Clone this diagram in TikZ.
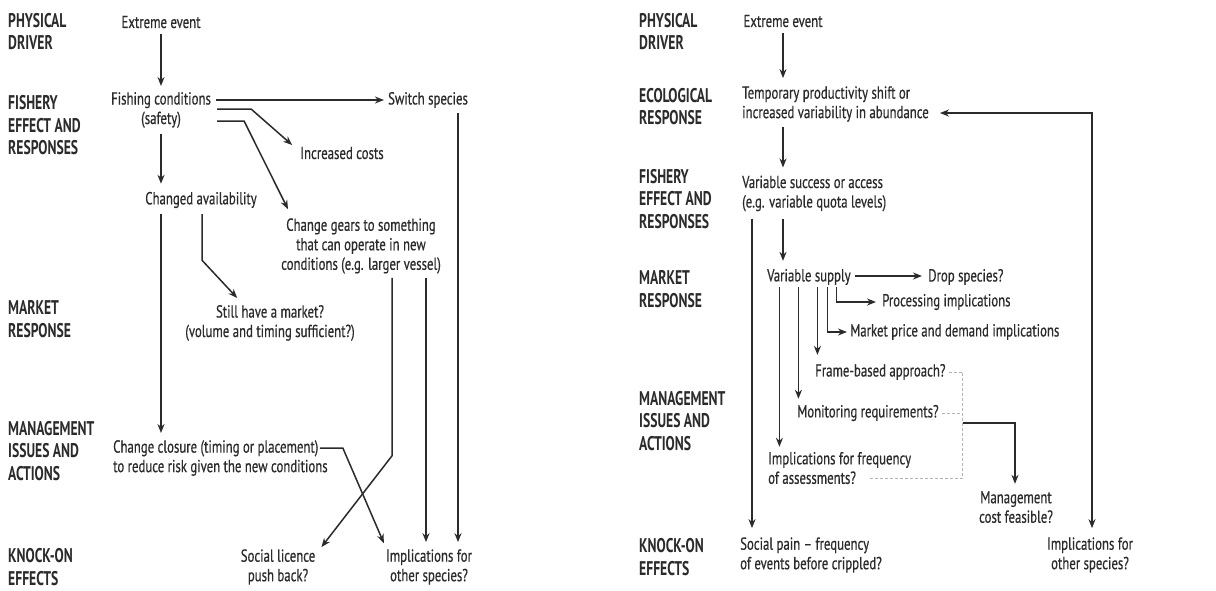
\documentclass[tikz,border=0pt]{standalone}
\usepackage{fontspec}
\setmainfont[FakeStretch=0.735,FakeBold=0.5]{PT Sans}
\newfontfamily\headfont[FakeStretch=0.69]{PT Sans}
\usetikzlibrary{arrows.meta,calc}
\definecolor{ink}{HTML}{2B2B2B}
\begin{document}
\begin{tikzpicture}[x=1pt,y=-1pt,
  every node/.style={inner sep=0pt, text=ink},
  body/.style={font=\fontsize{17.4}{19.5}\selectfont, align=center},
  bodyl/.style={font=\fontsize{17.4}{19.5}\selectfont, align=left, anchor=west},
  head/.style={font=\headfont\bfseries\fontsize{19.8}{22.5}\selectfont, align=left, anchor=west},
  link/.style={draw=ink, line width=1.5pt},
  arr/.style={link, -{Stealth[length=9pt,width=7pt]}},
  arrs/.style={link, {Stealth[length=9pt,width=7pt]}-{Stealth[length=9pt,width=7pt]}},
  dsh/.style={draw=black!30, line width=0.9pt, dash pattern=on 3pt off 2pt}]
\useasboundingbox[fill=white] (0,0) rectangle (1216,590);

% ---------- left panel: row headings ----------
\node[head] (lp)  at (8,31.5)  {PHYSICAL\\DRIVER};
\node[head] (lf)  at (8,125.5) {FISHERY\\EFFECT AND\\RESPONSES};
\node[head] (lm)  at (8,319)   {MARKET\\RESPONSE};
\node[head] (lmg) at (8,451)   {MANAGEMENT\\ISSUES AND\\ACTIONS};
\node[head] (lk)  at (8,567)   {KNOCK-ON\\EFFECTS};

% ---------- left panel: items ----------
\node[body] (ee1) at (161,22)  {Extreme event};
\node[body] (fc)  at (161,110) {Fishing conditions\\(safety)};
\node[body] (ss)  at (428,100) {Switch species};
\node[body] (ic)  at (342,153) {Increased costs};
\node[body] (ca)  at (201,200) {Changed availability};
\node[body] (cg)  at (361,246) {Change gears to something\\that can operate in new\\conditions (e.g. larger vessel)};
\node[body] (sm)  at (270,323) {Still have a market?\\(volume and timing sufficient?)};
\node[bodyl] (cc) at (113,458) {Change closure (timing or placement)\\to reduce risk given the new conditions};
\node[body] (sl)  at (278,567) {Social licence\\push back?};
\node[body] (io1) at (429,567) {Implications for\\other species?};

% ---------- left panel: connectors ----------
\draw[arr] ($(ee1.south)+(0,6)$) -- ($(fc.north)+(0,-6)$);
\draw[arr, line width=2pt] ($(fc.east |- ss.west)+(5,0)$) -- ($(ss.west)+(-4,0)$);
\draw[arr] ($(fc.east)+(6,-1)$) -- ++(34,0) -- ($(ic.west)+(-8,-8)$);
\draw[arr] ($(fc.east)+(6,11)$) -- ++(27,0) -- ($(cg.north west)+(7,-9)$);
\draw[arr] ($(fc.south)+(0,6)$) -- ($(fc.south |- ca.north)+(0,-8)$);
\coordinate (caL) at ($(ca.south)+(-40,6)$);
\draw[arr] (caL) -- ($(caL |- cc.north)+(0,-7)$);
\draw[arr] ($(ca.south)+(1,6)$) -- ++(0,46) -- ($(sm.north west)+(52,-7)$);
\coordinate (cgA) at ($(cg.south)+(31,4)$);
\draw[arr] (cgA) -- ++(0,178) -- ($(sl.north east)+(6,-2)$);
\coordinate (cgB) at ($(cg.south)+(65,4)$);
\draw[arr] (cgB) -- ($(cgB |- io1.north)+(0,-7)$);
\coordinate (ssB) at ($(ss.south)+(30,5)$);
\draw[arr] (ssB) -- ($(ssB |- io1.north)+(0,-7)$);
\draw[arr] ($(cc.east)+(-8,-10)$) -- ++(23,0) -- ($(io1.north west)+(-2,-6)$);

% ---------- right panel: row headings ----------
\node[head] (rp)  at (639,31.5)  {PHYSICAL\\DRIVER};
\node[head] (re)  at (639,106.5) {ECOLOGICAL\\RESPONSE};
\node[head] (rf)  at (639,199)   {FISHERY\\EFFECT AND\\RESPONSES};
\node[head] (rm)  at (639,289)   {MARKET\\RESPONSE};
\node[head] (rmg) at (639,421)   {MANAGEMENT\\ISSUES AND\\ACTIONS};
\node[head] (rk)  at (639,557)   {KNOCK-ON\\EFFECTS};

% ---------- right panel: items ----------
\node[body]  (ee2)  at (783,21)   {Extreme event};
\node[bodyl] (tp)   at (742,104)  {Temporary productivity shift or\\increased variability in abundance};
\node[bodyl] (vs)   at (742,193.5){Variable success or access\\(e.g. variable quota levels)};
\node[bodyl] (vsup) at (767,277)  {Variable supply};
\node[bodyl] (ds)   at (928,277)  {Drop species?};
\node[bodyl] (pi)   at (882,302)  {Processing implications};
\node[bodyl] (mp)   at (850,332)  {Market price and demand implications};
\node[bodyl] (fb)   at (815,372)  {Frame-based approach?};
\node[bodyl] (mr)   at (797,413)  {Monitoring requirements?};
\node[bodyl] (ifa)  at (768,468)  {Implications for frequency\\of assessments?};
\node[body]  (mc)   at (1016,507) {Management\\cost feasible?};
\node[bodyl] (sp)   at (740,555)  {Social pain – frequency\\of events before crippled?};
\node[body]  (io2)  at (1090,555) {Implications for\\other species?};

% ---------- right panel: connectors ----------
\draw[arr] ($(ee2.south)+(0,6)$) -- ($(ee2.south |- tp.north)+(0,-8)$);
\draw[arr] ($(ee2.south |- tp.south)+(0,5)$) -- ($(ee2.south |- vs.north)+(0,-8)$);
\draw[arrs] ($(io2.north)+(2,-9)$) |- ($(tp.east)+(11,9)$);
\coordinate (vsA) at ($(vs.south west)+(10,7)$);
\draw[arr] (vsA) -- ($(vsA |- sp.north)+(0,-9)$);
\coordinate (vsB) at ($(vs.south west)+(41,7)$);
\draw[arr] (vsB) -- ($(vsB |- vsup.north)+(0,-8)$);
\draw[arr, line width=2pt] ($(vsup.east)+(4,-1)$) -- ($(ds.west)+(-6,-1)$);
\draw[arr] ($(vsup.south)+(27.5,2)$) |- ($(pi.west)+(-6,0)$);
\draw[arr] ($(vsup.south)+(18.5,2)$) |- ($(mp.west)+(-3,0)$);
\coordinate (vsC) at ($(vsup.south)+(8.5,2)$);
\draw[arr] (vsC) -- ($(vsC |- fb.north)+(0,-9)$);
\coordinate (vsD) at ($(vsup.south)+(-10.5,2)$);
\draw[arr] (vsD) -- ($(vsD |- mr.north)+(0,-6)$);
\coordinate (vsE) at ($(vsup.south)+(-29.5,2)$);
\draw[arr] (vsE) -- ($(vsE |- ifa.north)+(0,-5)$);

% dashed bracket gathering the management questions
\coordinate (dj) at ($(fb.east)+(17,0)$);
\draw[dsh] ($(fb.east)+(3,0)$) -- (dj) |- ($(ifa.west)+(100,10)$);
\draw[dsh] ($(mr.east)+(3,0)$) -- (mr.east -| dj);
\draw[arr] ($(mr.east -| dj)+(0,10)$) -| ($(mc.north)+(-1,-7)$);
\end{tikzpicture}
\end{document}
